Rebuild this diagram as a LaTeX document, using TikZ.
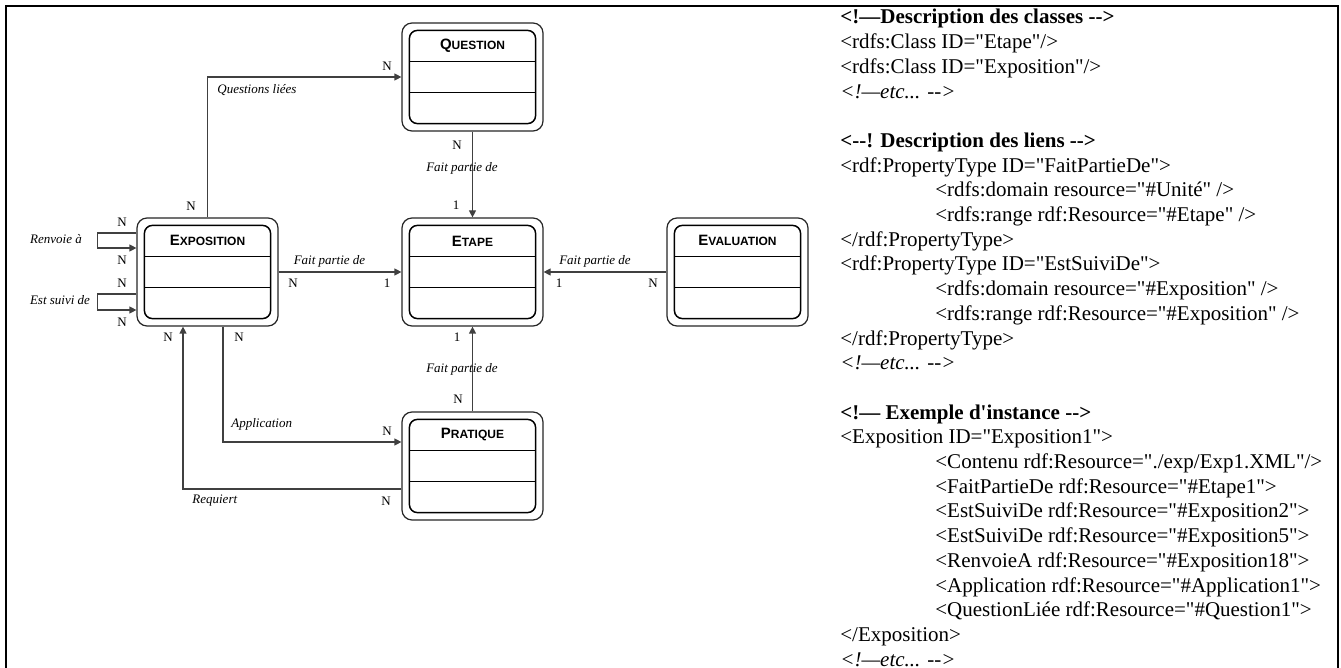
\documentclass[tikz,border=0pt]{standalone}
\usepackage{fontspec}
\setmainfont{Liberation Serif}[Ligatures=TeXOff]
\setsansfont{Liberation Sans}
\usetikzlibrary{arrows.meta}

% fausses petites capitales des titres de classes
\newcommand{\petitcap}[2]{{\fontsize{7.5}{9}\selectfont #1}{\fontsize{6}{7}\selectfont #2}}

% une classe : nom, centre, titre
\newcommand{\boite}[3]{%
  \node[classe] (#1) at (#2) {};
  \draw[line width=0.75pt, rounded corners=4pt] ([shift={(4pt,-4pt)}]#1.north west) rectangle ([shift={(-4pt,4pt)}]#1.south east);
  \draw[line width=0.5pt] ([shift={(4pt,-19.5pt)}]#1.north west) -- ([shift={(-4pt,-19.5pt)}]#1.north east);
  \draw[line width=0.5pt] ([shift={(4pt,-35pt)}]#1.north west) -- ([shift={(-4pt,-35pt)}]#1.north east);
  \node[titre] (#1-t) at ([yshift=-11.75pt]#1.north) {#3};
}

\tikzset{
  classe/.style={draw=black!85, line width=0.6pt, rounded corners=5pt, fill=white,
    minimum width=70.5pt, minimum height=54pt, inner sep=0pt},
  titre/.style={font=\sffamily\bfseries, inner sep=0pt},
  lien/.style={draw=black!75, line width=0.6pt, -{Triangle[length=3.5pt,width=3.5pt]}},
  role/.style={font=\fontsize{6.5}{7.5}\selectfont\itshape, inner sep=0pt},
  card/.style={font=\fontsize{6.5}{7.5}\selectfont, inner sep=0pt}
}

\begin{document}
\begin{tikzpicture}[x=0.5pt,y=-0.5pt]
    \useasboundingbox (0,0) rectangle (1341,668);
    \draw [line width=1pt] (6,668) -- (6,6) -- (1338,6) -- (1338,668);

    % Classes
    \boite{quest}{472.5,77}{\petitcap{Q}{UESTION}}
    \boite{etape}{472.5,272}{\petitcap{E}{TAPE}}
    \boite{eval}{737.5,272}{\petitcap{E}{VALUATION}}
    \boite{expo}{207.5,272}{\petitcap{E}{XPOSITION}}
    \boite{prat}{472.5,466}{\petitcap{P}{RATIQUE}}

    % Liens
    \draw [lien] (expo.north) |- (quest.west);
    \draw [lien] (quest.south) -- (etape.north);
    \draw [lien] (expo.east) -- (etape.west);
    \draw [lien] (eval.west) -- (etape.east);
    \draw [lien] (prat.north) -- (etape.south);
    \draw [lien] ([xshift=7.75pt]expo.south) |- ([yshift=12pt]prat.west);
    \draw [lien] ([yshift=-11.5pt]prat.west) -| ([xshift=-12.25pt]expo.south);
    \draw [lien] ([yshift=19.5pt]expo.west) -- ++(-19.5pt,0) |- ([yshift=12pt]expo.west);
    \draw [lien] ([yshift=-11pt]expo.west) -- ++(-19.5pt,0) |- ([yshift=-19pt]expo.west);

    % Roles
    \node [role, anchor=west] (rquest) at (217,90) {Questions liées};
    \node [role] (rqe) at (462,168) {Fait partie de};
    \node [role] (rxe) at (329.5,261) {Fait partie de};
    \node [role] (rve) at (595,261) {Fait partie de};
    \node [role] (rpe) at (462,369) {Fait partie de};
    \node [role, anchor=west] (rapp) at (231,424) {Application};
    \node [role, anchor=west] (rreq) at (192,501) {Requiert};
    \node [role] (rrenv) at (56,239) {Renvoie à};
    \node [role] (rsuivi) at (60,300) {Est suivi de};

    % Cardinalites
    \foreach \x/\y/\t [count=\i] in {191/206/N, 387/66/N, 457/145/N, 456/205/1,
        293/283/N, 387/283/1, 559/283/1, 653/283/N, 457/337/1, 458/399/N,
        387/431/N, 386/501/N, 168/337/N, 239/337/N,
        122/222/N, 122/260/N, 122/283/N, 122/322/N} {
        \node [card] (card\i) at (\x,\y) {\t};
    }

    % Code RDF
    \node [anchor=base west, inner sep=0pt] (rdf) at (840,24) {%
      \begin{minipage}[t]{250pt}
      \fontsize{10.5}{12.35}\selectfont
      \textbf{<!—Description des classes -->}\\
      <rdfs:Class ID="Etape"/>\\
      <rdfs:Class ID="Exposition"/>\\
      \textit{<!—etc... -->}\\
      \mbox{}\\
      \textbf{<--! Description des liens -->}\\
      <rdf:PropertyType ID="FaitPartieDe">\\
      \hspace*{47.5pt}<rdfs:domain resource="\#Unité" />\\
      \hspace*{47.5pt}<rdfs:range rdf:Resource="\#Etape" />\\
      </rdf:PropertyType>\\
      <rdf:PropertyType ID="EstSuiviDe">\\
      \hspace*{47.5pt}<rdfs:domain resource="\#Exposition" />\\
      \hspace*{47.5pt}<rdfs:range rdf:Resource="\#Exposition" />\\
      </rdf:PropertyType>\\
      \textit{<!—etc... -->}\\
      \mbox{}\\
      \textbf{<!— Exemple d'instance -->}\\
      <Exposition ID="Exposition1">\\
      \hspace*{47.5pt}<Contenu rdf:Resource="./exp/Exp1.XML"/>\\
      \hspace*{47.5pt}<FaitPartieDe rdf:Resource="\#Etape1">\\
      \hspace*{47.5pt}<EstSuiviDe rdf:Resource="\#Exposition2">\\
      \hspace*{47.5pt}<EstSuiviDe rdf:Resource="\#Exposition5">\\
      \hspace*{47.5pt}<RenvoieA rdf:Resource="\#Exposition18">\\
      \hspace*{47.5pt}<Application rdf:Resource="\#Application1">\\
      \hspace*{47.5pt}<QuestionLiée rdf:Resource="\#Question1">\\
      </Exposition>\\
      \textit{<!—etc... -->}
      \end{minipage}};
\end{tikzpicture}
\end{document}
